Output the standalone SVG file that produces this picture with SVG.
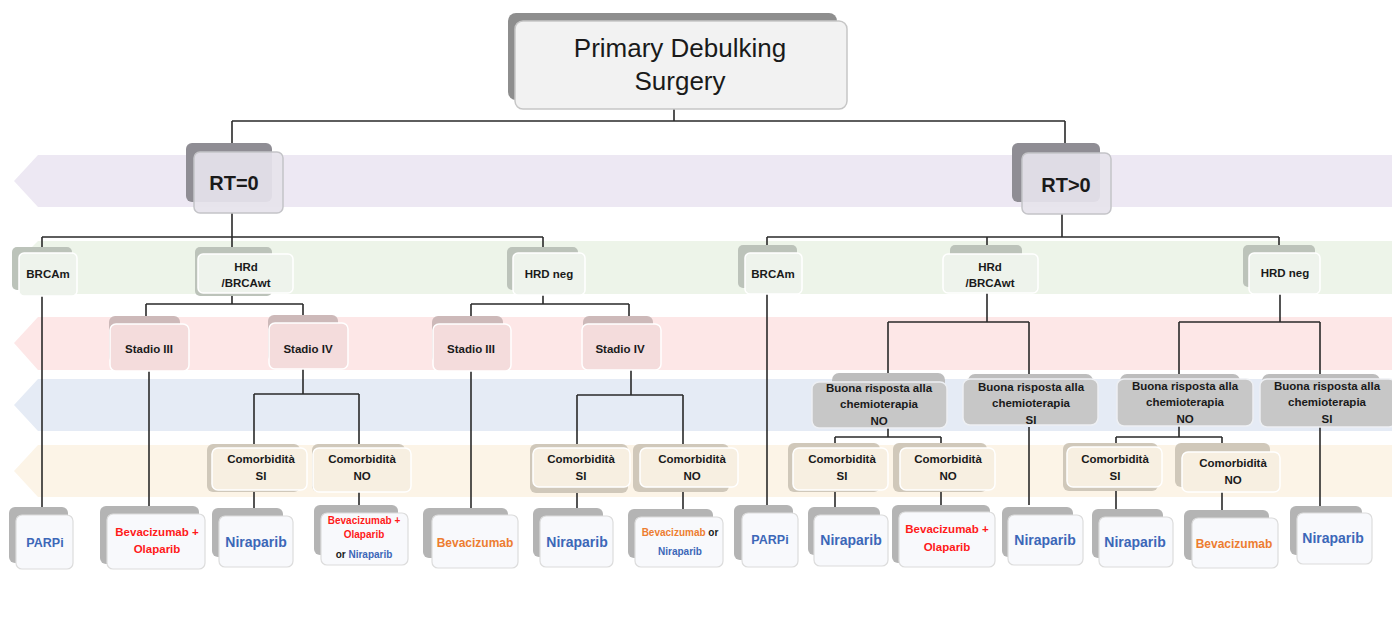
<svg xmlns="http://www.w3.org/2000/svg" width="1392" height="633" viewBox="0 0 1392 633">
  <style>
    text { font-family: "Liberation Sans", Arial, sans-serif; font-weight: bold; text-anchor: middle; fill: #1a1a1a; }
    .band { stroke: none; }
    .wire { fill: none; stroke: #2a2a2a; stroke-width: 1.6; }
    .sh-top { fill: #8e8e8e; }
    .fr-top { fill: #f2f2f2; stroke: #c6c6c6; stroke-width: 1.5; }
    .sh-rt { fill: #8f8d94; }
    .fr-rt { fill: #e6e3ec; fill-opacity: 0.92; stroke: #c4c4c8; stroke-width: 1.5; }
    .sh-g { fill: #bcc3ba; }
    .fr-g { fill: #eef3ec; stroke: #ffffff; stroke-width: 1.5; }
    .sh-p { fill: #cdb9b9; }
    .fr-p { fill: #f4dcdc; stroke: #ffffff; stroke-width: 1.5; }
    .sh-b { fill: #bdbdbd; }
    .fr-b { fill: #c7c7c7; stroke: #eef0f4; stroke-width: 1.5; }
    .sh-t { fill: #d0c8ba; }
    .fr-t { fill: #f7efe1; stroke: #ffffff; stroke-width: 1.5; }
    .sh-l { fill: #b4b4b4; }
    .fr-l { fill: #f8f9fc; stroke: #dcdcdc; stroke-width: 1.2; }
    .s12 { font-size: 12px; }
    .s115 { font-size: 11.5px; }
    .s10 { font-size: 10px; }
    .blue { fill: #3c67b8; }
    .red { fill: #ff1a1a; }
    .orange { fill: #ed7d31; }
  </style>

  <!-- background -->
  <rect x="0" y="0" width="1392" height="633" fill="#ffffff"/>

  <!-- level bands (left-pointing) -->
  <g id="bands">
    <path class="band" d="M38 155 H1392 V207 H38 L14 181 Z" fill="#ede8f3"/>
    <path class="band" d="M38 241 H1392 V294 H38 L12 267 Z" fill="#edf4e9"/>
    <path class="band" d="M38 317 H1392 V370 H38 L14 343 Z" fill="#fde7e7"/>
    <path class="band" d="M38 379 H1392 V431 H38 L14 405 Z" fill="#e5ebf5"/>
    <path class="band" d="M38 445 H1392 V497 H38 L14 471 Z" fill="#fcf4e7"/>
  </g>

  <!-- connectors -->
  <g id="connectors">
    <path class="wire" d="M674 109 V121 M232 121 H1065 M232 121 V143 M1065 121 V143"/>
    <path class="wire" d="M232 213 V247 M42 237 H543 M42 237 V247 M543 237 V247"/>
    <path class="wire" d="M1062 214 V237 M767 237 H1279 M767 237 V245 M987 237 V245 M1279 237 V245"/>
    <path class="wire" d="M42 296 V507"/>
    <path class="wire" d="M232 293 V304 M146 304 H303 M146 304 V316 M303 304 V315"/>
    <path class="wire" d="M543 295 V304 M471 304 H629 M471 304 V316 M629 304 V316"/>
    <path class="wire" d="M149 371 V506"/>
    <path class="wire" d="M303 369 V394 M254 394 H359 M254 394 V444 M359 394 V444"/>
    <path class="wire" d="M471 371 V508"/>
    <path class="wire" d="M631 370 V395 M577 395 H683 M577 395 V444 M683 395 V444"/>
    <path class="wire" d="M254 490 V508 M359 492 V505 M577 487 V508 M683 487 V509"/>
    <path class="wire" d="M767 294 V505"/>
    <path class="wire" d="M987 293 V322 M888 322 H1029 M888 322 V373 M1029 322 V379"/>
    <path class="wire" d="M888 428 V437 M835 437 H941 M835 437 V443 M941 437 V443"/>
    <path class="wire" d="M835 490 V507 M941 490 V505"/>
    <path class="wire" d="M1029 427 V505"/>
    <path class="wire" d="M1280 294 V322 M1179 322 H1320 M1179 322 V374 M1320 322 V379"/>
    <path class="wire" d="M1179 426 V437 M1116 437 H1222 M1116 437 V443 M1222 437 V443"/>
    <path class="wire" d="M1116 487 V509 M1222 492 V510"/>
    <path class="wire" d="M1320 427 V506"/>
  </g>

  <!-- root -->
  <g id="primary-debulking">
    <rect class="sh-top" x="508" y="13" width="329" height="87" rx="8"/>
    <rect class="fr-top" x="515" y="21" width="332" height="88" rx="8"/>
    <text x="680" y="57" style="font-size:26px;font-weight:normal">Primary Debulking</text>
    <text x="680" y="90" style="font-size:26px;font-weight:normal">Surgery</text>
  </g>

  <!-- residual tumour -->
  <g id="rt0">
    <rect class="sh-rt" x="186" y="143" width="86" height="59" rx="6"/>
    <rect class="fr-rt" x="194" y="152" width="89" height="61" rx="6"/>
    <text x="234" y="190" style="font-size:20px">RT=0</text>
  </g>
  <g id="rt-pos">
    <rect class="sh-rt" x="1012" y="143" width="88" height="59" rx="6"/>
    <rect class="fr-rt" x="1022" y="153" width="89" height="61" rx="6"/>
    <text x="1066" y="192" style="font-size:20px">RT&gt;0</text>
  </g>

  <!-- molecular status, RT=0 -->
  <g id="brcam-a">
    <rect class="sh-g" x="12" y="247" width="60" height="43" rx="5"/>
    <rect class="fr-g" x="19" y="253" width="58" height="43" rx="5"/>
    <text class="s115" x="48" y="278">BRCAm</text>
  </g>
  <g id="hrd-a">
    <rect class="sh-g" x="195" y="247" width="77" height="49" rx="5"/>
    <rect class="fr-g" x="198" y="254" width="95" height="39" rx="5"/>
    <text class="s115" x="246" y="271">HRd</text>
    <text class="s115" x="246" y="287">/BRCAwt</text>
  </g>
  <g id="hrdneg-a">
    <rect class="sh-g" x="507" y="247" width="71" height="43" rx="5"/>
    <rect class="fr-g" x="513" y="253" width="72" height="42" rx="5"/>
    <text class="s115" x="549" y="278">HRD neg</text>
  </g>

  <!-- molecular status, RT>0 -->
  <g id="brcam-b">
    <rect class="sh-g" x="738" y="245" width="59" height="43" rx="5"/>
    <rect class="fr-g" x="745" y="253" width="57" height="41" rx="5"/>
    <text class="s115" x="773" y="278">BRCAm</text>
  </g>
  <g id="hrd-b">
    <rect class="sh-g" x="950" y="245" width="72" height="48" rx="5"/>
    <rect class="fr-g" x="943" y="254" width="95" height="39" rx="5"/>
    <text class="s115" x="990" y="271">HRd</text>
    <text class="s115" x="990" y="287">/BRCAwt</text>
  </g>
  <g id="hrdneg-b">
    <rect class="sh-g" x="1243" y="245" width="72" height="42" rx="5"/>
    <rect class="fr-g" x="1249" y="253" width="71" height="41" rx="5"/>
    <text class="s115" x="1285" y="277">HRD neg</text>
  </g>

  <!-- stage -->
  <g id="stadio3-a">
    <rect class="sh-p" x="109" y="316" width="71" height="47" rx="6"/>
    <rect class="fr-p" x="110" y="324" width="79" height="47" rx="6"/>
    <text class="s115" x="149" y="353">Stadio III</text>
  </g>
  <g id="stadio4-a">
    <rect class="sh-p" x="268" y="315" width="70" height="47" rx="6"/>
    <rect class="fr-p" x="269" y="323" width="79" height="46" rx="6"/>
    <text class="s115" x="308" y="353">Stadio IV</text>
  </g>
  <g id="stadio3-b">
    <rect class="sh-p" x="432" y="316" width="71" height="47" rx="6"/>
    <rect class="fr-p" x="433" y="324" width="78" height="47" rx="6"/>
    <text class="s115" x="471" y="353">Stadio III</text>
  </g>
  <g id="stadio4-b">
    <rect class="sh-p" x="583" y="316" width="70" height="47" rx="6"/>
    <rect class="fr-p" x="582" y="324" width="79" height="46" rx="6"/>
    <text class="s115" x="620" y="353">Stadio IV</text>
  </g>

  <!-- response to chemotherapy -->
  <g id="risposta-no-a">
    <rect class="sh-b" x="832" y="373" width="113" height="50" rx="7"/>
    <rect class="fr-b" x="812" y="382" width="135" height="46" rx="7"/>
    <text class="s115" x="879" y="392">Buona risposta alla</text>
    <text class="s115" x="879" y="408">chemioterapia</text>
    <text class="s115" x="879" y="425">NO</text>
  </g>
  <g id="risposta-si-a">
    <rect class="sh-b" x="968" y="374" width="125" height="50" rx="7"/>
    <rect class="fr-b" x="963" y="379" width="135" height="46" rx="7"/>
    <text class="s115" x="1031" y="391">Buona risposta alla</text>
    <text class="s115" x="1031" y="407">chemioterapia</text>
    <text class="s115" x="1031" y="424">SI</text>
  </g>
  <g id="risposta-no-b">
    <rect class="sh-b" x="1120" y="374" width="120" height="50" rx="7"/>
    <rect class="fr-b" x="1117" y="379" width="136" height="47" rx="7"/>
    <text class="s115" x="1185" y="390">Buona risposta alla</text>
    <text class="s115" x="1185" y="406">chemioterapia</text>
    <text class="s115" x="1185" y="423">NO</text>
  </g>
  <g id="risposta-si-b">
    <rect class="sh-b" x="1262" y="374" width="118" height="50" rx="7"/>
    <rect class="fr-b" x="1260" y="379" width="136" height="48" rx="7"/>
    <text class="s115" x="1327" y="390">Buona risposta alla</text>
    <text class="s115" x="1327" y="406">chemioterapia</text>
    <text class="s115" x="1327" y="423">SI</text>
  </g>

  <!-- comorbidity -->
  <g id="comorb-si-a">
    <rect class="sh-t" x="207" y="444" width="93" height="48" rx="6"/>
    <rect class="fr-t" x="212" y="448" width="95" height="42" rx="6"/>
    <text class="s115" x="261" y="463">Comorbidità</text>
    <text class="s115" x="261" y="480">SI</text>
  </g>
  <g id="comorb-no-a">
    <rect class="sh-t" x="312" y="444" width="93" height="48" rx="6"/>
    <rect class="fr-t" x="313" y="448" width="98" height="44" rx="6"/>
    <text class="s115" x="362" y="463">Comorbidità</text>
    <text class="s115" x="362" y="480">NO</text>
  </g>
  <g id="comorb-si-b">
    <rect class="sh-t" x="530" y="444" width="98" height="49" rx="6"/>
    <rect class="fr-t" x="533" y="448" width="97" height="39" rx="6"/>
    <text class="s115" x="581" y="463">Comorbidità</text>
    <text class="s115" x="581" y="480">SI</text>
  </g>
  <g id="comorb-no-b">
    <rect class="sh-t" x="633" y="444" width="96" height="48" rx="6"/>
    <rect class="fr-t" x="640" y="448" width="98" height="39" rx="6"/>
    <text class="s115" x="692" y="463">Comorbidità</text>
    <text class="s115" x="692" y="480">NO</text>
  </g>
  <g id="comorb-si-c">
    <rect class="sh-t" x="788" y="443" width="92" height="49" rx="6"/>
    <rect class="fr-t" x="793" y="448" width="95" height="42" rx="6"/>
    <text class="s115" x="842" y="463">Comorbidità</text>
    <text class="s115" x="842" y="480">SI</text>
  </g>
  <g id="comorb-no-c">
    <rect class="sh-t" x="893" y="443" width="94" height="49" rx="6"/>
    <rect class="fr-t" x="900" y="448" width="95" height="42" rx="6"/>
    <text class="s115" x="948" y="463">Comorbidità</text>
    <text class="s115" x="948" y="480">NO</text>
  </g>
  <g id="comorb-si-d">
    <rect class="sh-t" x="1063" y="443" width="95" height="48" rx="6"/>
    <rect class="fr-t" x="1067" y="447" width="95" height="40" rx="6"/>
    <text class="s115" x="1115" y="463">Comorbidità</text>
    <text class="s115" x="1115" y="480">SI</text>
  </g>
  <g id="comorb-no-d">
    <rect class="sh-t" x="1175" y="443" width="95" height="44" rx="6"/>
    <rect class="fr-t" x="1182" y="452" width="98" height="40" rx="6"/>
    <text class="s115" x="1233" y="467">Comorbidità</text>
    <text class="s115" x="1233" y="484">NO</text>
  </g>

  <!-- treatments -->
  <g id="tx-parpi-a">
    <rect class="sh-l" x="9" y="507" width="59" height="56" rx="6"/>
    <rect class="fr-l" x="16" y="515" width="57" height="54" rx="6"/>
    <text class="blue" x="45" y="547" style="font-size:12.5px">PARPi</text>
  </g>
  <g id="tx-bev-ola-a">
    <rect class="sh-l" x="100" y="506" width="99" height="58" rx="6"/>
    <rect class="fr-l" x="107" y="514" width="98" height="55" rx="6"/>
    <text class="red s115" x="157" y="536">Bevacizumab +</text>
    <text class="red s115" x="157" y="553">Olaparib</text>
  </g>
  <g id="tx-nira-a">
    <rect class="sh-l" x="212" y="508" width="71" height="49" rx="6"/>
    <rect class="fr-l" x="219" y="516" width="74" height="51" rx="6"/>
    <text class="blue" x="256" y="547" style="font-size:14px">Niraparib</text>
  </g>
  <g id="tx-bev-ola-or-nira-a">
    <rect class="sh-l" x="314" y="505" width="84" height="50" rx="6"/>
    <rect class="fr-l" x="321" y="513" width="87" height="52" rx="6"/>
    <text class="red s10" x="364" y="524">Bevacizumab +</text>
    <text class="red s10" x="364" y="538">Olaparib</text>
    <text class="s10" x="364" y="558">or <tspan class="blue">Niraparib</tspan></text>
  </g>
  <g id="tx-bev-b">
    <rect class="sh-l" x="423" y="508" width="85" height="50" rx="6"/>
    <rect class="fr-l" x="432" y="515" width="86" height="53" rx="6"/>
    <text class="orange s12" x="475" y="547">Bevacizumab</text>
  </g>
  <g id="tx-nira-b">
    <rect class="sh-l" x="533" y="508" width="70" height="49" rx="6"/>
    <rect class="fr-l" x="540" y="516" width="73" height="51" rx="6"/>
    <text class="blue" x="577" y="547" style="font-size:14px">Niraparib</text>
  </g>
  <g id="tx-bev-or-nira-b">
    <rect class="sh-l" x="628" y="509" width="85" height="49" rx="6"/>
    <rect class="fr-l" x="635" y="517" width="88" height="50" rx="6"/>
    <text class="s10" x="680" y="536"><tspan class="orange">Bevacizumab</tspan> or</text>
    <text class="blue s10" x="680" y="555">Niraparib</text>
  </g>
  <g id="tx-parpi-c">
    <rect class="sh-l" x="734" y="505" width="59" height="55" rx="6"/>
    <rect class="fr-l" x="742" y="513" width="56" height="54" rx="6"/>
    <text class="blue" x="770" y="544" style="font-size:12.5px">PARPi</text>
  </g>
  <g id="tx-nira-c">
    <rect class="sh-l" x="808" y="507" width="72" height="48" rx="6"/>
    <rect class="fr-l" x="814" y="515" width="74" height="51" rx="6"/>
    <text class="blue" x="851" y="545" style="font-size:14px">Niraparib</text>
  </g>
  <g id="tx-bev-ola-c">
    <rect class="sh-l" x="892" y="505" width="98" height="58" rx="6"/>
    <rect class="fr-l" x="899" y="512" width="96" height="55" rx="6"/>
    <text class="red s115" x="947" y="533">Bevacizumab +</text>
    <text class="red s115" x="947" y="551">Olaparib</text>
  </g>
  <g id="tx-nira-d">
    <rect class="sh-l" x="1002" y="507" width="71" height="50" rx="6"/>
    <rect class="fr-l" x="1008" y="515" width="75" height="50" rx="6"/>
    <text class="blue" x="1045" y="545" style="font-size:14px">Niraparib</text>
  </g>
  <g id="tx-nira-e">
    <rect class="sh-l" x="1092" y="509" width="71" height="49" rx="6"/>
    <rect class="fr-l" x="1099" y="517" width="74" height="50" rx="6"/>
    <text class="blue" x="1135" y="547" style="font-size:14px">Niraparib</text>
  </g>
  <g id="tx-bev-e">
    <rect class="sh-l" x="1184" y="510" width="85" height="50" rx="6"/>
    <rect class="fr-l" x="1192" y="518" width="86" height="50" rx="6"/>
    <text class="orange s12" x="1234" y="548">Bevacizumab</text>
  </g>
  <g id="tx-nira-f">
    <rect class="sh-l" x="1290" y="506" width="72" height="49" rx="6"/>
    <rect class="fr-l" x="1297" y="513" width="75" height="51" rx="6"/>
    <text class="blue" x="1333" y="543" style="font-size:14px">Niraparib</text>
  </g>
</svg>
